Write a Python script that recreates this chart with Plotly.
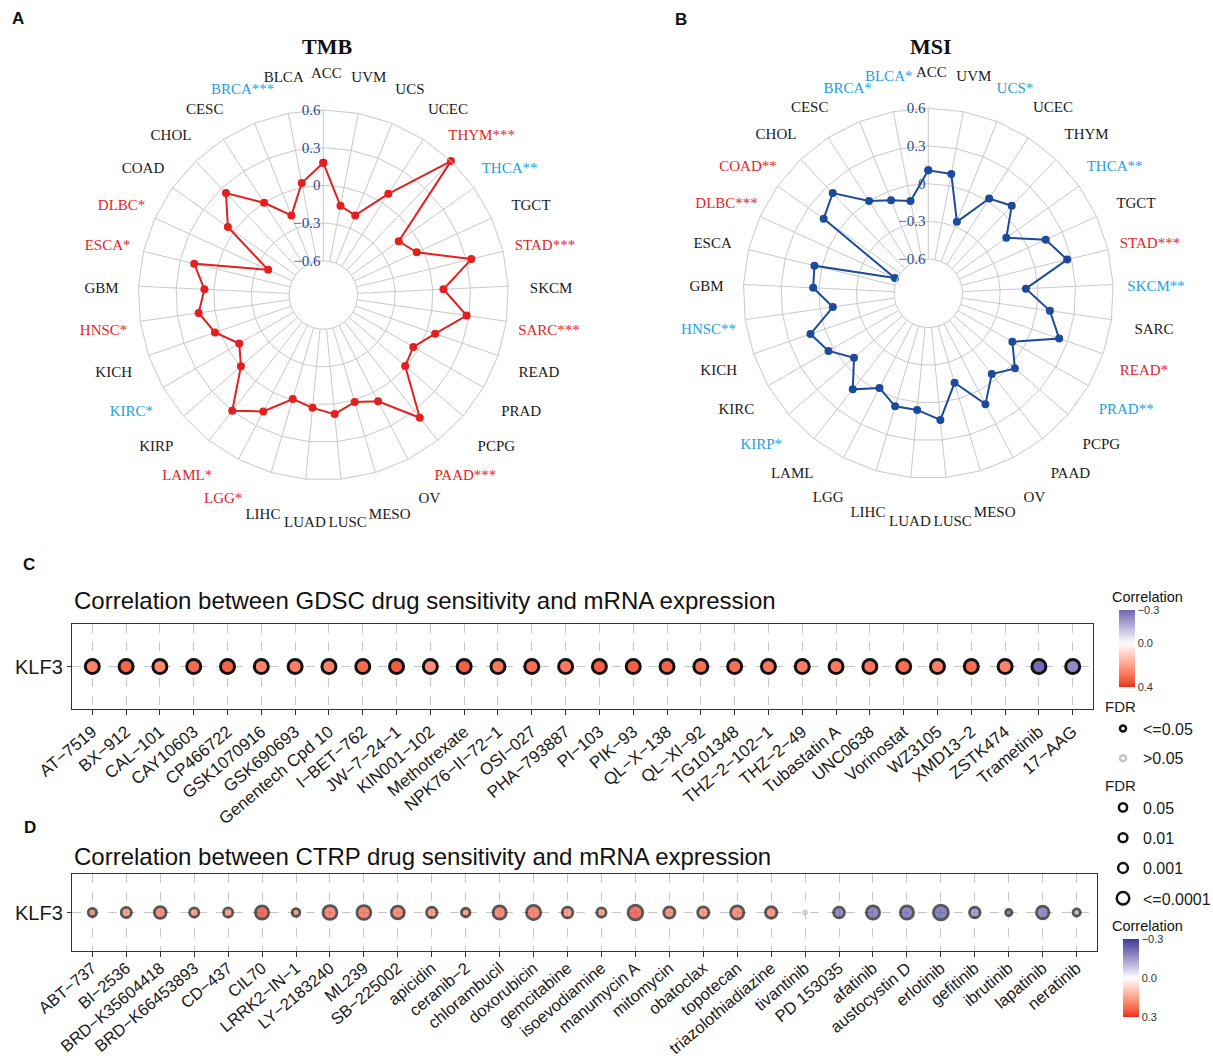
import plotly.graph_objects as go

# ---------------- data ----------------
cancers = ["ACC", "BLCA", "BRCA", "CESC", "CHOL", "COAD", "DLBC", "ESCA", "GBM", "HNSC",
           "KICH", "KIRC", "KIRP", "LAML", "LGG", "LIHC", "LUAD", "LUSC", "MESO", "OV",
           "PAAD", "PCPG", "PRAD", "READ", "SARC", "SKCM", "STAD", "TGCT", "THCA", "THYM",
           "UCEC", "UCS", "UVM"]

tmb_corr = [0.18, 0.035, -0.19, 0.0, 0.25, 0.06, -0.39, 0.185, 0.075, 0.13,
            0.04, -0.10, -0.005, 0.30, 0.17, -0.01, 0.03, 0.08, 0.015, 0.08,
            0.37, -0.01, -0.045, 0.07, 0.28, 0.085, 0.34, -0.055, -0.135, 0.60,
            0.085, -0.19, -0.15]
tmb_stars = ["", "", "***", "", "", "", "*", "*", "", "*",
             "", "*", "", "*", "*", "", "", "", "", "",
             "***", "", "", "", "***", "", "***", "", "**", "***",
             "", "", ""]
tmb_dir = ["", "", "neg", "", "", "", "pos", "pos", "", "pos",
           "", "neg", "", "pos", "pos", "", "", "", "", "",
           "pos", "", "", "", "pos", "", "pos", "", "neg", "pos",
           "", "", ""]

msi_corr = [0.106, -0.125, -0.075, 0.0, 0.23, 0.15, -0.58, 0.06, 0.045, -0.105,
            0.12, 0.045, -0.09, 0.10, -0.025, 0.065, 0.06, 0.14, -0.13, 0.12,
            -0.055, 0.04, -0.10, 0.23, 0.105, -0.095, 0.265, 0.155, -0.11, 0.09,
            0.024, -0.26, 0.095]
msi_stars = ["", "*", "*", "", "", "**", "***", "", "", "**",
             "", "", "*", "", "", "", "", "", "", "",
             "", "", "**", "*", "", "**", "***", "", "**", "",
             "", "*", ""]
msi_dir = ["", "neg", "neg", "", "", "pos", "pos", "", "", "neg",
           "", "", "neg", "", "", "", "", "", "", "",
           "", "", "neg", "pos", "", "neg", "pos", "", "neg", "",
           "", "neg", ""]

radial_min, radial_max = -0.6, 0.6
radial_ticks = [-0.6, -0.3, 0.0, 0.3, 0.6]
radial_ticktext = ["\u22120.6", "\u22120.3", "0", "0.3", "0.6"]

gdsc_drugs = ["AT\u22127519", "BX\u2212912", "CAL\u2212101", "CAY10603", "CP466722", "GSK1070916",
              "GSK690693", "Genentech Cpd 10", "I\u2212BET\u2212762", "JW\u22127\u221224\u22121",
              "KIN001\u2212102", "Methotrexate", "NPK76\u2212II\u221272\u22121", "OSI\u2212027",
              "PHA\u2212793887", "PI\u2212103", "PIK\u221293", "QL\u2212X\u2212138", "QL\u2212XI\u221292",
              "TG101348", "THZ\u22122\u2212102\u22121", "THZ\u22122\u221249", "Tubastatin A", "UNC0638",
              "Vorinostat", "WZ3105", "XMD13\u22122", "ZSTK474", "Trametinib", "17\u2212AAG"]
gdsc_corr = [0.26, 0.32, 0.25, 0.31, 0.32, 0.26, 0.27, 0.26, 0.31, 0.34,
             0.24, 0.33, 0.28, 0.30, 0.28, 0.33, 0.33, 0.32, 0.30, 0.30,
             0.29, 0.27, 0.28, 0.29, 0.30, 0.27, 0.30, 0.26, -0.29, -0.23]

ctrp_drugs = ["ABT\u2212737", "BI\u22122536", "BRD\u2212K35604418", "BRD\u2212K66453893", "CD\u2212437",
              "CIL70", "LRRK2\u2212IN\u22121", "LY\u22122183240", "ML239", "SB\u2212225002",
              "apicidin", "ceranib\u22122", "chlorambucil", "doxorubicin", "gemcitabine",
              "isoevodiamine", "manumycin A", "mitomycin", "obatoclax", "topotecan",
              "triazolothiadiazine", "tivantinib", "PD 153035", "afatinib", "austocystin D",
              "erlotinib", "gefitinib", "ibrutinib", "lapatinib", "neratinib"]
ctrp_corr = [0.21, 0.21, 0.24, 0.20, 0.20, 0.30, 0.19, 0.25, 0.26, 0.24,
             0.21, 0.20, 0.25, 0.26, 0.21, 0.20, 0.29, 0.22, 0.21, 0.24,
             0.22, 0.02, -0.24, -0.25, -0.25, -0.26, -0.19, -0.22, -0.23, -0.12]
ctrp_neglog10_fdr = [2.25, 2.75, 3.13, 2.5, 2.5, 3.5, 2.13, 3.68, 3.68, 3.43,
                     2.83, 2.33, 3.5, 3.75, 2.85, 2.5, 3.88, 3.0, 3.0, 3.5,
                     3.08, 1.0, 2.93, 3.5, 3.5, 3.93, 2.83, 1.75, 3.33, 2.0]

gene = "KLF3"
fdr_sig_labels = ["<=0.05", ">0.05"]
fdr_size_labels = ["0.05", "0.01", "0.001", "<=0.0001"]

# ---------------- colours ----------------
RED_TXT = "#e8232a"
BLUE_TXT = "#22a0e4"
GRID = "#c9c9c9"
LOW_BLUE = "#3a3a98"
HIGH_RED = "#e83020"


def _hex(h):
    h = h.lstrip("#")
    return [int(h[i:i + 2], 16) / 255 for i in (0, 2, 4)]


def _lin(c):
    return c / 12.92 if c <= 0.04045 else ((c + 0.055) / 1.055) ** 2.4


def _gam(c):
    return 12.92 * c if c <= 0.0031308 else 1.055 * c ** (1 / 2.4) - 0.055


def rgb2lab(h):
    r, g, b = [_lin(c) for c in _hex(h)]
    X = (0.4124 * r + 0.3576 * g + 0.1805 * b) / 0.95047
    Y = 0.2126 * r + 0.7152 * g + 0.0722 * b
    Z = (0.0193 * r + 0.1192 * g + 0.9505 * b) / 1.08883
    f = lambda t: t ** (1 / 3) if t > 0.008856 else 7.787 * t + 16 / 116
    fx, fy, fz = f(X), f(Y), f(Z)
    return (116 * fy - 16, 500 * (fx - fy), 200 * (fy - fz))


def lab2rgb(L, a, b):
    fy = (L + 16) / 116
    fx = fy + a / 500
    fz = fy - b / 200
    finv = lambda t: t ** 3 if t ** 3 > 0.008856 else (t - 16 / 116) / 7.787
    X = finv(fx) * 0.95047
    Y = finv(fy)
    Z = finv(fz) * 1.08883
    r = 3.2406 * X - 1.5372 * Y - 0.4986 * Z
    g = -0.9689 * X + 1.8758 * Y + 0.0415 * Z
    bb = 0.0557 * X - 0.2040 * Y + 1.0570 * Z
    out = [min(1, max(0, _gam(max(0, c)))) for c in (r, g, bb)]
    return "rgb(%d,%d,%d)" % tuple(round(c * 255) for c in out)


LAB_B, LAB_W, LAB_R = rgb2lab(LOW_BLUE), rgb2lab("#ffffff"), rgb2lab(HIGH_RED)


def gradient(t):
    # t = 0 -> blue (most negative), 0.5 -> white, 1 -> red (most positive)
    if t <= 0.5:
        s = t / 0.5
        A, B = LAB_B, LAB_W
    else:
        s = (t - 0.5) / 0.5
        A, B = LAB_W, LAB_R
    return lab2rgb(*[A[i] + (B[i] - A[i]) * s for i in range(3)])


def build_scale(cmin, cmax, maxabs, n=21):
    # colour value c = -correlation (so that negative correlation sits on top of the bar)
    sc = []
    for k in range(n):
        p = k / (n - 1)
        c = cmin + (cmax - cmin) * p
        corr = -c
        sc.append([p, gradient(0.5 + corr / (2 * maxabs))])
    return sc


W, H = 1213, 1058


def px_x(a, b):
    return [a / W, b / W]


def px_y(top, bottom):
    return [1 - bottom / H, 1 - top / H]


def radar_labels(stars, dirs):
    out = []
    for name, s, d in zip(cancers, stars, dirs):
        if d == "pos":
            out.append('<span style="color:%s">%s%s</span>' % (RED_TXT, name, s))
        elif d == "neg":
            out.append('<span style="color:%s">%s%s</span>' % (BLUE_TXT, name, s))
        else:
            out.append(name)
    return out


fig = go.Figure()


# ---------------- radar charts ----------------
# the radial axis is measured from its inner edge (-0.6) so that the hole sits at the axis start
def from_base(lst):
    vals = [v - radial_min for v in lst]
    return vals + [vals[0]]


def closed(lst):
    return list(lst) + [lst[0]]


fig.add_trace(go.Scatterpolar(r=from_base(tmb_corr), theta=closed(cancers), mode="lines+markers",
                              line=dict(color="#e41f1f", width=2),
                              marker=dict(color="#e41f1f", size=8),
                              subplot="polar", showlegend=False, cliponaxis=False))
fig.add_trace(go.Scatterpolar(r=from_base(msi_corr), theta=closed(cancers), mode="lines+markers",
                              line=dict(color="#1d4b9b", width=2),
                              marker=dict(color="#1d4b9b", size=8),
                              subplot="polar2", showlegend=False, cliponaxis=False))

# category labels around each radar, centred on their spoke (overlay polar measured in px)
LABEL_POLAR_R = 250
LABEL_R = 225
fig.add_trace(go.Scatterpolar(r=[LABEL_R] * len(cancers), theta=cancers, mode="text",
                              text=radar_labels(tmb_stars, tmb_dir), textposition="middle center",
                              textfont=dict(family="Liberation Serif", size=15, color="#1a1a1a"),
                              subplot="polar3", showlegend=False, hoverinfo="skip"))
fig.add_trace(go.Scatterpolar(r=[LABEL_R] * len(cancers), theta=cancers, mode="text",
                              text=radar_labels(msi_stars, msi_dir), textposition="middle center",
                              textfont=dict(family="Liberation Serif", size=15, color="#1a1a1a"),
                              subplot="polar4", showlegend=False, hoverinfo="skip"))


def polar_layout(dx, dy):
    return dict(
        domain=dict(x=dx, y=dy),
        bgcolor="white",
        hole=0.185,
        gridshape="linear",
        radialaxis=dict(range=[0, radial_max - radial_min], tickmode="array",
                        tickvals=[t - radial_min for t in radial_ticks],
                        ticktext=radial_ticktext, angle=90, side="counterclockwise",
                        tickangle=90, showline=False, gridcolor=GRID, gridwidth=1, ticks="",
                        tickfont=dict(family="Liberation Serif", size=15, color="#2b4a9b")),
        angularaxis=dict(type="category", categoryorder="array", categoryarray=cancers,
                         direction="counterclockwise", rotation=90, showticklabels=False,
                         showline=True, linecolor=GRID, linewidth=1, gridcolor=GRID, gridwidth=1,
                         ticks=""),
    )


def label_polar_layout(dx, dy):
    return dict(
        domain=dict(x=dx, y=dy),
        bgcolor="rgba(0,0,0,0)",
        radialaxis=dict(range=[0, LABEL_POLAR_R], visible=False),
        angularaxis=dict(type="category", categoryorder="array", categoryarray=cancers,
                         direction="counterclockwise", rotation=90, visible=False),
    )


R = 185
C1 = (323.3, 295.0)
C2 = (928.3, 293.3)
LBL_DX, LBL_DY = 3.0, 4.5
L1 = (C1[0] + LBL_DX, C1[1] + LBL_DY)
L2 = (C2[0] + LBL_DX, C2[1] + LBL_DY)
fig.update_layout(
    polar=polar_layout(px_x(C1[0] - R, C1[0] + R), px_y(C1[1] - R, C1[1] + R)),
    polar2=polar_layout(px_x(C2[0] - R, C2[0] + R), px_y(C2[1] - R, C2[1] + R)),
    polar3=label_polar_layout(px_x(L1[0] - LABEL_POLAR_R, L1[0] + LABEL_POLAR_R),
                              px_y(L1[1] - LABEL_POLAR_R, L1[1] + LABEL_POLAR_R)),
    polar4=label_polar_layout(px_x(L2[0] - LABEL_POLAR_R, L2[0] + LABEL_POLAR_R),
                              px_y(L2[1] - LABEL_POLAR_R, L2[1] + LABEL_POLAR_R)),
)

# ---------------- GDSC bubble row ----------------
gdsc_scale = build_scale(-0.4, 0.3, 0.4)
fig.add_trace(go.Scatter(
    x=gdsc_drugs, y=[gene] * len(gdsc_drugs), mode="markers",
    marker=dict(size=14, color=[-v for v in gdsc_corr], colorscale=gdsc_scale,
                cmin=-0.4, cmax=0.3, line=dict(color="#111111", width=3),
                showscale=True,
                colorbar=dict(x=1119 / W, xanchor="left", y=1 - 687 / H, yanchor="bottom",
                              len=77 / H, lenmode="fraction", thickness=16, outlinewidth=0,
                              xpad=0, ypad=0,
                              tickmode="array", tickvals=[-0.4, 0.0, 0.3],
                              ticktext=["0.4", "0.0", "\u22120.3"], ticks="",
                              tickfont=dict(family="Arial", size=11, color="#333333"))),
    xaxis="x", yaxis="y", showlegend=False))

# ---------------- CTRP bubble row ----------------
ctrp_scale = build_scale(-0.3, 0.3, 0.3)
ctrp_size = [2 + 4 * v - 2.8 for v in ctrp_neglog10_fdr]
ctrp_line = ["#111111" if v >= 1.3 else "#c4c4c4" for v in ctrp_neglog10_fdr]
fig.add_trace(go.Scatter(
    x=ctrp_drugs, y=[gene] * len(ctrp_drugs), mode="markers",
    marker=dict(size=ctrp_size, color=[-v for v in ctrp_corr], colorscale=ctrp_scale,
                cmin=-0.3, cmax=0.3, line=dict(color=ctrp_line, width=2.8),
                showscale=True,
                colorbar=dict(x=1123 / W, xanchor="left", y=1 - 1017 / H, yanchor="bottom",
                              len=78 / H, lenmode="fraction", thickness=16, outlinewidth=0,
                              xpad=0, ypad=0,
                              tickmode="array", tickvals=[-0.3, 0.0, 0.3],
                              ticktext=["0.3", "0.0", "\u22120.3"], ticks="",
                              tickfont=dict(family="Arial", size=11, color="#333333"))),
    xaxis="x2", yaxis="y2", showlegend=False))
# tick-mark carrier for the CTRP drug axis (labels sit closer to the panel, as in the figure)
fig.add_trace(go.Scatter(x=ctrp_drugs, y=[gene] * len(ctrp_drugs), mode="markers",
                         marker=dict(size=1, opacity=0), xaxis="x3", yaxis="y2",
                         showlegend=False, hoverinfo="skip"))

# ---------------- legends ----------------
sig_styles = [dict(size=6, color="white", line=dict(color="#111111", width=2.5)),
              dict(size=6, color="white", line=dict(color="#c4c4c4", width=2.5))]
for i, (lab, st) in enumerate(zip(fdr_sig_labels, sig_styles)):
    fig.add_trace(go.Scatter(x=[None], y=[None], mode="markers", name=lab, marker=st,
                             legend="legend", legendgroup="s%d" % i, showlegend=True,
                             xaxis="x", yaxis="y"))

size_styles = [8.2, 8.8, 9.8, 12.5]
for i, (lab, sz) in enumerate(zip(fdr_size_labels, size_styles)):
    fig.add_trace(go.Scatter(x=[None], y=[None], mode="markers", name=lab,
                             marker=dict(size=sz, color="white", line=dict(color="#111111", width=2.5)),
                             legend="legend2", legendgroup="z%d" % i, showlegend=True,
                             xaxis="x2", yaxis="y2"))

legend_common = dict(bgcolor="rgba(0,0,0,0)", borderwidth=0, xanchor="left", yanchor="top",
                     font=dict(family="Arial", size=16, color="#1a1a1a"), itemsizing="trace")
fig.update_layout(
    legend=dict(x=1103 / W, y=1 - 692 / H, tracegroupgap=6,
                title=dict(text="FDR", font=dict(family="Arial", size=15, color="#1a1a1a")),
                **legend_common),
    legend2=dict(x=1103 / W, y=1 - 771 / H, tracegroupgap=6.5,
                 title=dict(text="FDR", font=dict(family="Arial", size=15, color="#1a1a1a")),
                 **legend_common),
)

TICK_ANGLE = -40


# ---------------- axes ----------------
def xaxis_cfg(drugs, dx, anchor, ticklen=5, fontsize=17):
    return dict(domain=dx, anchor=anchor, type="category", categoryorder="array",
                categoryarray=drugs, range=[-0.6, len(drugs) - 0.4], automargin=False,
                showgrid=True, gridcolor="#c6c6c6", gridwidth=1, griddash="dash",
                showline=True, linecolor="#333333", linewidth=1.3, mirror=True,
                ticks="outside" if ticklen else "", ticklen=ticklen, tickwidth=1.3,
                tickcolor="#333333", tickangle=TICK_ANGLE, zeroline=False,
                tickfont=dict(family="Arial", size=fontsize, color="#1a1a1a"))


def yaxis_cfg(dy, anchor):
    return dict(domain=dy, anchor=anchor, type="category", range=[-0.6, 0.6], automargin=False,
                showgrid=True, gridcolor="#c6c6c6", gridwidth=1, griddash="dash",
                showline=True, linecolor="#333333", linewidth=1.3, mirror=True,
                ticks="outside", ticklen=4, tickwidth=1.3, tickcolor="#333333",
                zeroline=False, tickfont=dict(family="Arial", size=20, color="#1a1a1a"))


fig.update_layout(
    xaxis=xaxis_cfg(gdsc_drugs, px_x(72, 1093), "y"),
    yaxis=yaxis_cfg(px_y(624, 709), "x"),
    xaxis2=xaxis_cfg(ctrp_drugs, px_x(72, 1097), "y2", ticklen=0, fontsize=16.5),
    yaxis2=yaxis_cfg(px_y(874, 951), "x2"),
    xaxis3=dict(overlaying="x2", anchor="y2", side="bottom", type="category",
                categoryorder="array", categoryarray=ctrp_drugs,
                range=[-0.6, len(ctrp_drugs) - 0.4], automargin=False,
                showgrid=False, showline=False, zeroline=False, showticklabels=False,
                ticks="outside", ticklen=5, tickwidth=1.3, tickcolor="#333333"),
)

# ---------------- text ----------------
annots = [
    dict(text="<b>A</b>", x=18, y=19, size=17, fam="Arial", anchor="center"),
    dict(text="<b>B</b>", x=681, y=20, size=17, fam="Arial", anchor="center"),
    dict(text="<b>C</b>", x=29, y=564, size=17, fam="Arial", anchor="center"),
    dict(text="<b>D</b>", x=30, y=827, size=17, fam="Arial", anchor="center"),
    dict(text="<b>TMB</b>", x=326.5, y=47, size=22, fam="Liberation Serif", anchor="center"),
    dict(text="<b>MSI</b>", x=931, y=47, size=22, fam="Liberation Serif", anchor="center"),
    dict(text="Correlation between GDSC drug sensitivity and mRNA expression", x=72, y=600,
         size=24, fam="Arial", anchor="left"),
    dict(text="Correlation between CTRP drug sensitivity and mRNA expression", x=72, y=856,
         size=24, fam="Arial", anchor="left"),
    dict(text="Correlation", x=1110, y=597, size=14.5, fam="Arial", anchor="left"),
    dict(text="Correlation", x=1110, y=926, size=14.5, fam="Arial", anchor="left"),
]
for a in annots:
    fig.add_annotation(text=a["text"], x=a["x"] / W, y=1 - a["y"] / H, xref="paper", yref="paper",
                       xanchor=a["anchor"], yanchor="middle", showarrow=False,
                       font=dict(family=a["fam"], size=a["size"], color="#111111"))

fig.update_layout(width=W, height=H, margin=dict(l=0, r=0, t=0, b=0, autoexpand=False),
                  paper_bgcolor="white", plot_bgcolor="white", showlegend=True)

fig.write_html("out.html", config={"displayModeBar": False},
               post_script="document.body.style.margin='0px';document.body.style.overflow='hidden';")
